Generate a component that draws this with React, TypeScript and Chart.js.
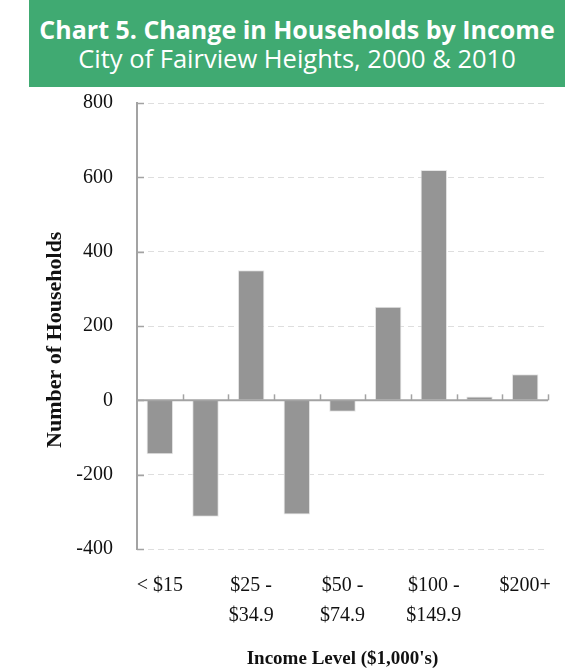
import React, { useEffect, useRef } from "react";
import { Chart, registerables } from "chart.js";

Chart.register(...registerables);

const titleText = "Chart 5. Change in Households by Income";
const subtitleText = "City of Fairview Heights, 2000 & 2010";
const categories: string[][] = [
  ["< $15"],
  ["$15 -", "$24.9"],
  ["$25 -", "$34.9"],
  ["$35 -", "$49.9"],
  ["$50 -", "$74.9"],
  ["$75 -", "$99.9"],
  ["$100 -", "$149.9"],
  ["$150 -", "$199.9"],
  ["$200+"],
];
const changeValues = [-145, -313, 350, -307, -31, 252, 620, 10, 70];
const yTicks = [-400, -200, 0, 200, 400, 600, 800];
const xTitle = "Income Level ($1,000's)";
const yTitle = "Number of Households";

const AXIS_COLOR = "#a3a3a3";

const axisDecor = {
  id: "axisDecor",
  afterDatasetsDraw(chart: any) {
    const { ctx, scales, chartArea } = chart;
    const x = scales.x;
    const y = scales.y;
    const y0 = y.getPixelForValue(0);
    ctx.save();
    ctx.strokeStyle = AXIS_COLOR;
    ctx.lineWidth = 2;
    ctx.beginPath();
    ctx.moveTo(chartArea.left, y0);
    ctx.lineTo(chartArea.right, y0);
    ctx.stroke();
    const n = x.ticks.length;
    const step = (chartArea.right - chartArea.left) / n;
    ctx.lineWidth = 1.5;
    for (let i = 1; i <= n; i++) {
      const px = Math.round(x.getPixelForValue(i - 1) + step / 2) + 0.5;
      ctx.beginPath();
      ctx.moveTo(px, y0);
      ctx.lineTo(px, y0 - 6);
      ctx.stroke();
    }
    for (const v of yTicks) {
      const py = Math.round(y.getPixelForValue(v)) + 0.5;
      ctx.beginPath();
      ctx.moveTo(chartArea.left, py);
      ctx.lineTo(chartArea.left + 7, py);
      ctx.stroke();
    }
    ctx.restore();
  },
};

function BarChart() {
  const ref = useRef<HTMLCanvasElement>(null);
  useEffect(() => {
    if (!ref.current) return;
    const chart = new Chart(ref.current, {
      type: "bar",
      data: {
        labels: categories,
        datasets: [
          {
            data: changeValues,
            backgroundColor: "#959595",
            borderColor: "#e6e6e6",
            borderWidth: 1,
            barPercentage: 0.58,
            categoryPercentage: 1,
          },
        ],
      },
      options: {
        animation: false,
        responsive: false,
        maintainAspectRatio: false,
        layout: { padding: { top: 103, right: 17, left: 0, bottom: 0 } },
        plugins: { legend: { display: false }, tooltip: { enabled: false } },
        scales: {
          x: {
            grid: { display: false, drawTicks: true, tickLength: 20 },
            border: { display: false },
            ticks: {
              autoSkip: false,
              maxRotation: 0,
              padding: 2,
              color: "#111",
              font: { family: "'Liberation Serif', serif", size: 20, lineHeight: 1.5 },
              callback: function (this: any, _v: any, i: number) {
                return i % 2 === 0 ? categories[i] : "";
              },
            },
            title: {
              display: true,
              text: xTitle,
              color: "#111",
              font: { family: "'Liberation Serif', serif", size: 19, weight: "bold", lineHeight: 1.2 },
              padding: { top: 0, bottom: 1 },
            },
            afterFit: (s: any) => {
              s.height = 122;
            },
          },
          y: {
            min: -400,
            max: 800,
            afterBuildTicks: (s: any) => {
              s.ticks = yTicks.map((v) => ({ value: v }));
            },
            grid: {
              color: "#dedede",
              lineWidth: 1,
              drawTicks: false,
            },
            border: { display: true, color: AXIS_COLOR, width: 2, dash: [6, 4] },
            ticks: {
              padding: 24,
              color: "#111",
              font: { family: "'Liberation Serif', serif", size: 20 },
            },
            title: {
              display: true,
              text: yTitle + "     ",
              color: "#111",
              font: { family: "'Liberation Serif', serif", size: 22, weight: "bold", lineHeight: 1.2 },
              padding: { top: 42, bottom: 0 },
            },
            afterFit: (s: any) => {
              s.width = 137;
            },
          },
        },
      },
      plugins: [axisDecor],
    });
    return () => chart.destroy();
  }, []);
  return <canvas ref={ref} width={565} height={671} style={{ position: "absolute", left: 0, top: 0 }} />;
}

export default function App() {
  useEffect(() => {
    document.body.style.margin = "0";
  }, []);
  return (
    <div style={{ position: "relative", width: 565, height: 671, overflow: "hidden", background: "#fff" }}>
      <BarChart />
      <div
        style={{
          position: "absolute",
          left: 29,
          top: 0,
          width: 536,
          height: 87,
          background: "#40aa72",
          color: "#fff",
          textAlign: "center",
          fontFamily: "'Open Sans', 'Noto Sans', sans-serif",
          whiteSpace: "nowrap",
        }}
      >
        <div style={{ fontSize: 25, fontWeight: 700, lineHeight: "29px", paddingTop: 15 }}>{titleText}</div>
        <div style={{ fontSize: 25.5, fontWeight: 400, lineHeight: "29px" }}>{subtitleText}</div>
      </div>
    </div>
  );
}
